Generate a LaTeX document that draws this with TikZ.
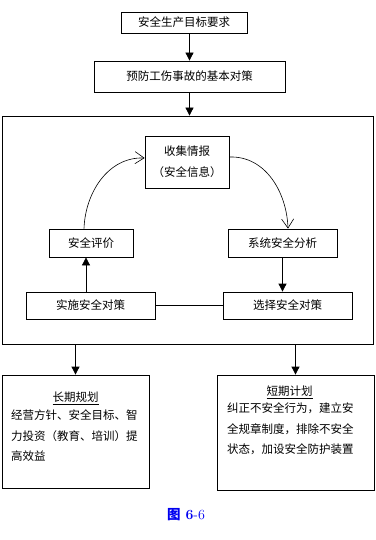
\documentclass[tikz,border=0pt]{standalone}
\usepackage{fontspec}
\usepackage{tikz}
\usetikzlibrary{arrows.meta,positioning,calc}
\newfontfamily\cjk{Noto Sans CJK SC}
\definecolor{capblue}{RGB}{0,0,240}

\begin{document}
\begin{tikzpicture}[x=1pt, y=-1pt,
    box/.style={draw, thick, inner sep=0pt, font=\cjk\fontsize{11.5}{14}\selectfont},
    txt/.style={inner sep=0pt, font=\cjk\fontsize{11.5}{20.3}\selectfont, align=left},
    arr/.style={-{Triangle[width=8pt,length=8pt]}, thick},
    loop_arr/.style={-{Straight Barb[length=9pt,width=12pt]}, semithick},
    plain/.style={thick}
]
\useasboundingbox (0,0) rectangle (375,540);

% Goal and basic measures (top)
\node[box, minimum width=126pt, minimum height=21pt] (goal) at (184,22.5) {安全生产目标要求};
\node[box, minimum width=191pt, minimum height=31pt] (measure) at (189.5,76.5) {预防工伤事故的基本对策};

% Outer frame of the cycle
\node[draw, thick, minimum width=371pt, minimum height=228pt] (frame) at (187.5,230) {};

\draw[arr] (goal.south -| measure.north) -- (measure.north);
\draw[arr] (measure.south) -- (measure.south |- frame.north);

% Safety management cycle
\node[box, minimum width=84pt, minimum height=52pt, align=center,
      font=\cjk\fontsize{11.5}{21}\selectfont] (info) at (187,162) {收集情报\\（安全信息）};
\node[box, minimum width=84pt, minimum height=28pt] (eval) at (91,243) {安全评价};
\node[box, minimum width=109pt, minimum height=28pt] (anal) at (282.5,243) {系统安全分析};
\node[box, minimum width=129pt, minimum height=27pt] (impl) at (90.5,305.5) {实施安全对策};
\node[box, minimum width=129pt, minimum height=27pt] (sel) at (287.5,305.5) {选择安全对策};

\draw[loop_arr] ([xshift=-7pt]eval.north) to[out=88,in=178] ([yshift=4pt]info.west);
\draw[loop_arr] ([yshift=5pt]info.east) to[out=2,in=92] ([xshift=5.5pt]anal.north);
\draw[arr] (anal.south) -- (anal.south |- sel.north);
\draw[plain] (impl.east) -- (impl.east -| sel.west);
\draw[arr] ([xshift=-4.5pt]impl.north) -- ([xshift=-4.5pt]impl.north |- eval.south);

% Long-term and short-term plans (bottom)
\node[draw, thick, minimum width=147pt, minimum height=113pt] (long) at (75.5,431.5) {};
\node[draw, thick, minimum width=157pt, minimum height=115pt] (short) at (295.5,432.5) {};

\draw[arr] (frame.south -| long.north) -- (long.north);
\draw[arr] (frame.south -| short.north) -- (short.north);

\node[txt] (long_title) at (75.5,398) {\underline{长期规划}};
\node[txt, anchor=north west] (long_text) at (11,410)
    {经营方针、安全目标、智\\力投资（教育、培训）提\\高效益};

\node[txt] (short_title) at (289.5,392) {\underline{短期计划}};
\node[txt, anchor=north west] (short_text) at (227,403)
    {纠正不安全行为，建立安\\全规章制度，排除不安全\\状态，加设安全防护装置};

% Caption
\node[font=\bfseries, text=capblue, inner sep=0pt] (caption) at (186,515)
    {{\cjk\fontsize{13.5}{16}\selectfont 图}\hspace{5pt}\fontsize{14}{16}\selectfont 6\textmd{-6}};

\end{tikzpicture}
\end{document}
